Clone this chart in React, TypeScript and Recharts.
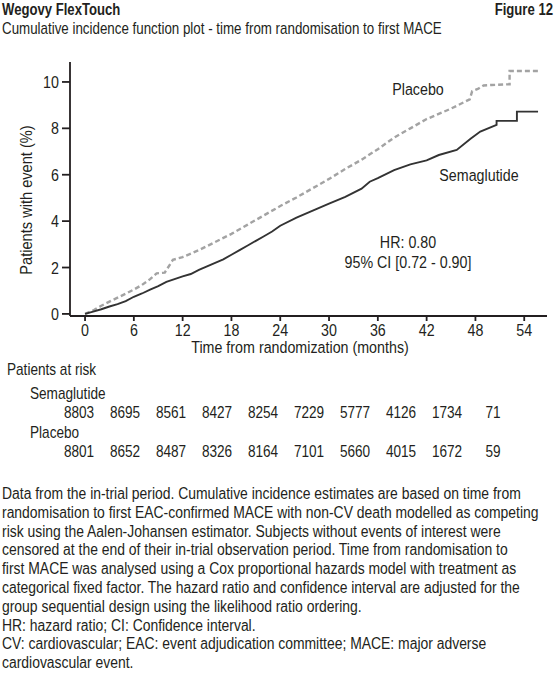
import React from 'react';
import { LineChart, Line, XAxis, YAxis } from 'recharts';

// Cumulative incidence (%), by month
const semaglutideMonths = [0, 1, 2, 3, 4, 5, 6, 7, 8, 9, 10, 11, 12, 13, 14, 15, 16, 17, 18, 19, 20, 21, 22, 23, 24, 26, 28, 30, 32, 34, 35, 36, 38, 40, 42, 43.5, 45.7, 47.4, 48.6, 50.6, 50.6, 53.1, 53.1, 55.7];
const semaglutidePct = [0, 0.1, 0.2, 0.32, 0.42, 0.55, 0.74, 0.88, 1.05, 1.2, 1.38, 1.5, 1.62, 1.72, 1.9, 2.05, 2.2, 2.35, 2.55, 2.75, 2.95, 3.15, 3.35, 3.55, 3.8, 4.15, 4.45, 4.75, 5.05, 5.4, 5.7, 5.85, 6.2, 6.45, 6.62, 6.85, 7.07, 7.55, 7.86, 8.15, 8.32, 8.32, 8.72, 8.72];

const placeboMonths = [0, 1, 2, 3, 4, 5, 6, 7, 8, 8.8, 9.8, 10.8, 12, 14, 16, 18, 20, 22, 24, 26, 28, 30, 32, 34, 36, 38, 40, 42, 44, 45, 47.3, 47.6, 48.3, 49, 50, 52.2, 52.2, 55.7];
const placeboPct = [0, 0.15, 0.35, 0.53, 0.7, 0.87, 1.05, 1.25, 1.5, 1.75, 1.78, 2.33, 2.45, 2.75, 3.1, 3.45, 3.85, 4.25, 4.65, 5.02, 5.42, 5.82, 6.25, 6.65, 7.1, 7.6, 8.0, 8.4, 8.7, 8.85, 9.25, 9.6, 9.7, 9.85, 9.87, 9.9, 10.47, 10.47];

const monthTicks = [0, 6, 12, 18, 24, 30, 36, 42, 48, 54];
const pctTicks = [0, 2, 4, 6, 8, 10];

const riskSemaglutide = [8803, 8695, 8561, 8427, 8254, 7229, 5777, 4126, 1734, 71];
const riskPlacebo = [8801, 8652, 8487, 8326, 8164, 7101, 5660, 4015, 1672, 59];

const footnote = [
  'Data from the in-trial period. Cumulative incidence estimates are based on time from',
  'randomisation to first EAC-confirmed MACE with non-CV death modelled as competing',
  'risk using the Aalen-Johansen estimator. Subjects without events of interest were',
  'censored at the end of their in-trial observation period. Time from randomisation to',
  'first MACE was analysed using a Cox proportional hazards model with treatment as',
  'categorical fixed factor. The hazard ratio and confidence interval are adjusted for the',
  'group sequential design using the likelihood ratio ordering.',
  'HR: hazard ratio; CI: Confidence interval.',
  'CV: cardiovascular; EAC: event adjudication committee; MACE: major adverse',
  'cardiovascular event.',
];

// no Arial Narrow here, so squeeze Liberation Sans horizontally
const FONT = "'Liberation Sans', Arial, sans-serif";
const INK = '#231f20';

const semaData = semaglutideMonths.map((t, i) => ({ t, v: semaglutidePct[i] }));
const placeboData = placeboMonths.map((t, i) => ({ t, v: placeboPct[i] }));

const Narrow = ({ x, y, children, anchor = 'start', bold = false, size = 16, sx = 0.85, rotate = 0 }: any) => (
  <g transform={`translate(${x},${y}) rotate(${rotate}) scale(${sx},1)`}>
    <text x={0} y={0} textAnchor={anchor} fontFamily={FONT} fontSize={size} fontWeight={bold ? 'bold' : 'normal'} fill={INK}>
      {children}
    </text>
  </g>
);

const XTick = ({ x, y, payload }: any) => <Narrow x={x} y={y + 10} size={17} sx={0.84} anchor="middle">{payload.value}</Narrow>;
const YTick = ({ x, y, payload }: any) => <Narrow x={x} y={y + 6} size={17} sx={0.84} anchor="end">{payload.value}</Narrow>;

export default function App() {
  return (
    <div style={{ position: 'absolute', left: 0, top: 0, width: 559, height: 674, background: '#fff' }}>
      <LineChart width={559} height={360} margin={{ top: 62, right: 12, left: 0, bottom: 0 }}>
        <XAxis
          xAxisId="b"
          dataKey="t"
          type="number"
          domain={[-1.85, 56.8]}
          ticks={monthTicks}
          allowDuplicatedCategory={false}
          height={44}
          tickSize={5}
          tickMargin={5}
          stroke={INK}
          strokeWidth={1.8}
          tick={<XTick />}
        />
        <XAxis xAxisId="t" orientation="top" type="number" domain={[-1.85, 56.8]} height={0} tick={false} tickLine={false} stroke={INK} strokeWidth={1.8} />
        <YAxis
          yAxisId="l"
          type="number"
          domain={[-0.09, 10.86]}
          ticks={pctTicks}
          width={70}
          tickSize={8}
          tickMargin={3}
          stroke={INK}
          strokeWidth={1.8}
          tick={<YTick />}
        />
        <YAxis yAxisId="r" orientation="right" type="number" domain={[-0.09, 10.86]} width={0} tick={false} tickLine={false} stroke={INK} strokeWidth={1.8} />
        <Line
          xAxisId="b"
          yAxisId="l"
          data={placeboData}
          dataKey="v"
          type="linear"
          stroke="#a3a3a3"
          strokeWidth={2.4}
          strokeDasharray="5 3"
          dot={false}
          isAnimationActive={false}
        />
        <Line
          xAxisId="b"
          yAxisId="l"
          data={semaData}
          dataKey="v"
          type="linear"
          stroke="#333333"
          strokeWidth={1.9}
          dot={false}
          isAnimationActive={false}
        />
      </LineChart>

      <svg width={559} height={674} style={{ position: 'absolute', left: 0, top: 0, pointerEvents: 'none' }}>
        <Narrow x={2} y={15} bold sx={0.82}>Wegovy FlexTouch</Narrow>
        <Narrow x={553} y={15} bold sx={0.82} anchor="end">Figure 12</Narrow>
        <Narrow x={2} y={34} sx={0.835}>Cumulative incidence function plot - time from randomisation to first MACE</Narrow>

        <Narrow x={32} y={200} rotate={-90} size={17} sx={0.86} anchor="middle">Patients with event (%)</Narrow>
        <Narrow x={300} y={353} size={17} sx={0.84} anchor="middle">Time from randomization (months)</Narrow>

        <Narrow x={418} y={95} size={17} sx={0.84} anchor="middle">Placebo</Narrow>
        <Narrow x={479} y={181} size={17} sx={0.84} anchor="middle">Semaglutide</Narrow>
        <Narrow x={408} y={248} size={17} sx={0.84} anchor="middle">HR: 0.80</Narrow>
        <Narrow x={408} y={268} size={17} sx={0.84} anchor="middle">95% CI [0.72 - 0.90]</Narrow>

        <Narrow x={7} y={375}>Patients at risk</Narrow>
        <Narrow x={30} y={399}>Semaglutide</Narrow>
        {riskSemaglutide.map((n, i) => (
          <Narrow key={'s' + i} x={79 + 46 * i} y={418} anchor="middle">{n}</Narrow>
        ))}
        <Narrow x={30} y={438}>Placebo</Narrow>
        {riskPlacebo.map((n, i) => (
          <Narrow key={'p' + i} x={79 + 46 * i} y={457} anchor="middle">{n}</Narrow>
        ))}

        {footnote.map((line, i) => (
          <Narrow key={'f' + i} x={2} y={499 + 18.8 * i} sx={0.87}>{line}</Narrow>
        ))}
      </svg>
    </div>
  );
}
